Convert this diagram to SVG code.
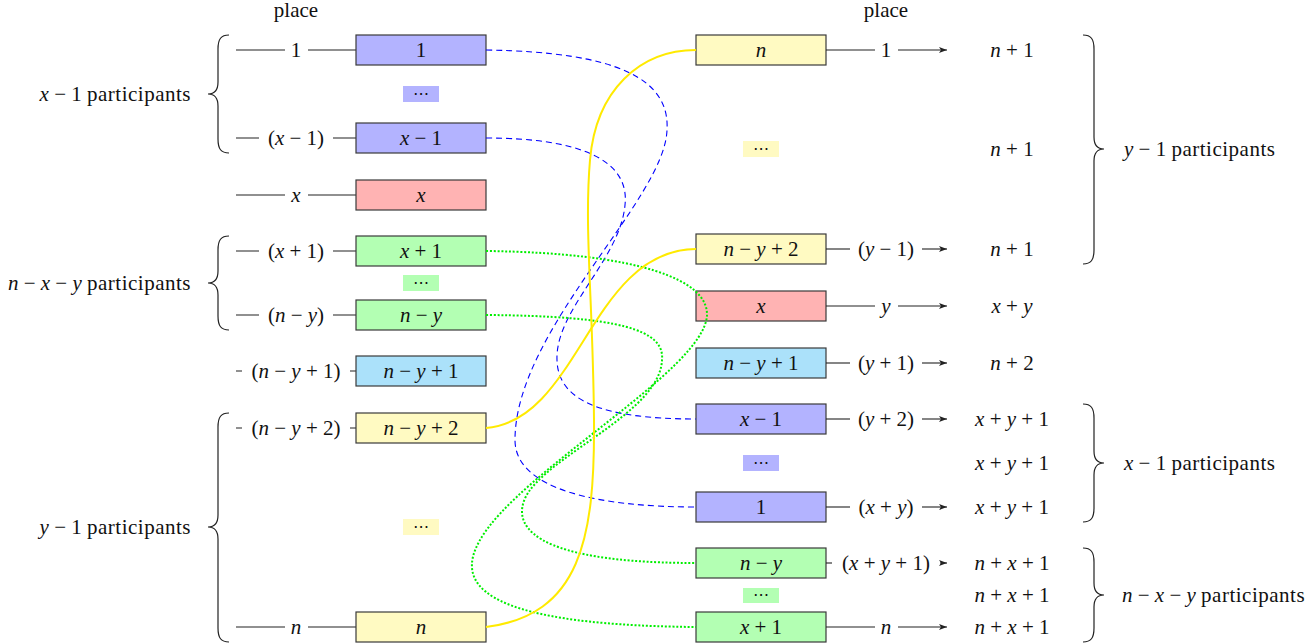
<svg xmlns="http://www.w3.org/2000/svg" width="1314" height="643" viewBox="0 0 1314 643">
<style>
text{font-family:"Liberation Serif","DejaVu Serif",serif;font-size:21px;fill:#111;}
.c{text-anchor:middle;}
.e{text-anchor:end;}
.i{font-style:italic;}
.pt{letter-spacing:0.5px;}
.dots{font-family:"DejaVu Sans",sans-serif;font-size:16px;text-anchor:middle;fill:#111;}
.box{stroke:#3a3a3a;stroke-width:1.2;}
.blue{fill:#b3b3ff;}
.red{fill:#ffb3b3;}
.green{fill:#b3ffb3;}
.cyan{fill:#abe1fa;}
.yellow{fill:#fffac2;}
.ln{stroke:#222;stroke-width:1.1;fill:none;}
.ar{stroke:#222;stroke-width:1.1;fill:none;marker-end:url(#arr);}
.brace{stroke:#222;stroke-width:1.2;fill:none;}
.cb{stroke:#0000ff;stroke-width:1.1;fill:none;stroke-dasharray:6 4;}
.cg{stroke:#00ee00;stroke-width:2;fill:none;stroke-dasharray:2 1.8;}
.cy{stroke:#ffea00;stroke-width:2;fill:none;}
</style>
<defs>
<marker id="arr" markerUnits="userSpaceOnUse" markerWidth="9" markerHeight="7" refX="8" refY="3.5" orient="auto">
<path d="M0,0.5 L8,3.5 L0,6.5 L2,3.5 z" fill="#222"/>
</marker>
</defs>
<rect x="0" y="0" width="1314" height="643" fill="#fff"/>

<g id="headers">
<text class="c" x="296" y="17">place</text>
<text class="c" x="886" y="17">place</text>
</g>

<g id="left-place-lines">
<path class="ln" d="M236,50H285M308,50H356"/>
<text class="c" x="296" y="57">1</text>
<path class="ln" d="M236,138H259M333,138H356"/>
<text class="c" x="296" y="145">(<tspan class="i">x</tspan> − 1)</text>
<path class="ln" d="M236,195H285M308,195H356"/>
<text class="c" x="296" y="202"><tspan class="i">x</tspan></text>
<path class="ln" d="M236,251H259M333,251H356"/>
<text class="c" x="296" y="258">(<tspan class="i">x</tspan> + 1)</text>
<path class="ln" d="M236,315H259M333,315H356"/>
<text class="c" x="296" y="322">(<tspan class="i">n</tspan> − <tspan class="i">y</tspan>)</text>
<path class="ln" d="M236,371H242M350,371H356"/>
<text class="c" x="296" y="378">(<tspan class="i">n</tspan> − <tspan class="i">y</tspan> + 1)</text>
<path class="ln" d="M236,428H242M350,428H356"/>
<text class="c" x="296" y="435">(<tspan class="i">n</tspan> − <tspan class="i">y</tspan> + 2)</text>
<path class="ln" d="M236,627H285M308,627H356"/>
<text class="c" x="296" y="634"><tspan class="i">n</tspan></text>
</g>

<g id="L-1"><rect class="box blue" x="356" y="35" width="130" height="30"/><text class="c" x="421" y="57">1</text></g>
<g id="L-dots-blue"><rect class="blue" x="403" y="86" width="36" height="16"/><text class="dots" x="421" y="99">⋯</text></g>
<g id="L-xm1"><rect class="box blue" x="356" y="123" width="130" height="30"/><text class="c" x="421" y="145"><tspan class="i">x</tspan> − 1</text></g>
<g id="L-x"><rect class="box red" x="356" y="180" width="130" height="30"/><text class="c" x="421" y="202"><tspan class="i">x</tspan></text></g>
<g id="L-xp1"><rect class="box green" x="356" y="236" width="130" height="30"/><text class="c" x="421" y="258"><tspan class="i">x</tspan> + 1</text></g>
<g id="L-dots-green"><rect class="green" x="403" y="275" width="36" height="16"/><text class="dots" x="421" y="288">⋯</text></g>
<g id="L-nmy"><rect class="box green" x="356" y="300" width="130" height="30"/><text class="c" x="421" y="322"><tspan class="i">n</tspan> − <tspan class="i">y</tspan></text></g>
<g id="L-nmyp1"><rect class="box cyan" x="356" y="356" width="130" height="30"/><text class="c" x="421" y="378"><tspan class="i">n</tspan> − <tspan class="i">y</tspan> + 1</text></g>
<g id="L-nmyp2"><rect class="box yellow" x="356" y="413" width="130" height="30"/><text class="c" x="421" y="435"><tspan class="i">n</tspan> − <tspan class="i">y</tspan> + 2</text></g>
<g id="L-dots-yellow"><rect class="yellow" x="403" y="519" width="36" height="16"/><text class="dots" x="421" y="532">⋯</text></g>
<g id="L-n"><rect class="box yellow" x="356" y="612" width="130" height="30"/><text class="c" x="421" y="634"><tspan class="i">n</tspan></text></g>

<g id="R-n"><rect class="box yellow" x="696" y="35" width="130" height="30"/><text class="c" x="761" y="57"><tspan class="i">n</tspan></text></g>
<g id="R-dots-yellow"><rect class="yellow" x="743" y="141" width="36" height="16"/><text class="dots" x="761" y="154">⋯</text></g>
<g id="R-nmyp2"><rect class="box yellow" x="696" y="234" width="130" height="30"/><text class="c" x="761" y="256"><tspan class="i">n</tspan> − <tspan class="i">y</tspan> + 2</text></g>
<g id="R-x"><rect class="box red" x="696" y="291" width="130" height="30"/><text class="c" x="761" y="313"><tspan class="i">x</tspan></text></g>
<g id="R-nmyp1"><rect class="box cyan" x="696" y="348" width="130" height="30"/><text class="c" x="761" y="370"><tspan class="i">n</tspan> − <tspan class="i">y</tspan> + 1</text></g>
<g id="R-xm1"><rect class="box blue" x="696" y="404" width="130" height="30"/><text class="c" x="761" y="426"><tspan class="i">x</tspan> − 1</text></g>
<g id="R-dots-blue"><rect class="blue" x="743" y="455" width="36" height="16"/><text class="dots" x="761" y="468">⋯</text></g>
<g id="R-1"><rect class="box blue" x="696" y="492" width="130" height="30"/><text class="c" x="761" y="514">1</text></g>
<g id="R-nmy"><rect class="box green" x="696" y="548" width="130" height="30"/><text class="c" x="761" y="570"><tspan class="i">n</tspan> − <tspan class="i">y</tspan></text></g>
<g id="R-dots-green"><rect class="green" x="743" y="588" width="36" height="15"/><text class="dots" x="761" y="600">⋯</text></g>
<g id="R-xp1"><rect class="box green" x="696" y="612" width="130" height="30"/><text class="c" x="761" y="634"><tspan class="i">x</tspan> + 1</text></g>

<g id="connectors">
<path class="cb" d="M486,50 C620,52 670,80 667,130 C665,200 515,330 515,440 C515,490 600,507 696,507"/>
<path class="cb" d="M486,138 C580,138 630,160 625,205 C620,260 555,310 557,360 C558,400 600,419 696,419"/>
<path class="cg" d="M486,251 C640,253 708,280 707,315 C705,370 520,470 480,540 C457,580 470,625 696,627"/>
<path class="cg" d="M486,315 C620,316 665,330 662,360 C660,410 560,450 530,490 C515,510 500,563 696,563"/>
<path class="cy" d="M486,627 C580,615 595,540 594,420 C593,300 584,230 590,160 C596,90 640,50 696,50"/>
<path class="cy" d="M486,428 C580,420 590,250 696,249"/>
</g>

<g id="right-place-arrows">
<path class="ln" d="M826,50H875"/><path class="ar" d="M898,50H947"/>
<text class="c" x="886" y="57">1</text>
<path class="ln" d="M826,249H850"/><path class="ar" d="M922,249H947"/>
<text class="c" x="886" y="256">(<tspan class="i">y</tspan> − 1)</text>
<path class="ln" d="M826,306H875"/><path class="ar" d="M898,306H947"/>
<text class="c" x="886" y="313"><tspan class="i">y</tspan></text>
<path class="ln" d="M826,363H850"/><path class="ar" d="M922,363H947"/>
<text class="c" x="886" y="370">(<tspan class="i">y</tspan> + 1)</text>
<path class="ln" d="M826,419H850"/><path class="ar" d="M922,419H947"/>
<text class="c" x="886" y="426">(<tspan class="i">y</tspan> + 2)</text>
<path class="ln" d="M826,507H850"/><path class="ar" d="M922,507H947"/>
<text class="c" x="886" y="514">(<tspan class="i">x</tspan> + <tspan class="i">y</tspan>)</text>
<path class="ln" d="M826,563H832"/><path class="ar" d="M940,563H947"/>
<text class="c" x="886" y="570">(<tspan class="i">x</tspan> + <tspan class="i">y</tspan> + 1)</text>
<path class="ln" d="M826,627H875"/><path class="ar" d="M898,627H947"/>
<text class="c" x="886" y="634"><tspan class="i">n</tspan></text>
</g>

<g id="results">
<text class="c" x="1012" y="57"><tspan class="i">n</tspan> + 1</text>
<text class="c" x="1012" y="156"><tspan class="i">n</tspan> + 1</text>
<text class="c" x="1012" y="256"><tspan class="i">n</tspan> + 1</text>
<text class="c" x="1012" y="313"><tspan class="i">x</tspan> + <tspan class="i">y</tspan></text>
<text class="c" x="1012" y="370"><tspan class="i">n</tspan> + 2</text>
<text class="c" x="1012" y="426"><tspan class="i">x</tspan> + <tspan class="i">y</tspan> + 1</text>
<text class="c" x="1012" y="470"><tspan class="i">x</tspan> + <tspan class="i">y</tspan> + 1</text>
<text class="c" x="1012" y="514"><tspan class="i">x</tspan> + <tspan class="i">y</tspan> + 1</text>
<text class="c" x="1012" y="570"><tspan class="i">n</tspan> + <tspan class="i">x</tspan> + 1</text>
<text class="c" x="1012" y="602"><tspan class="i">n</tspan> + <tspan class="i">x</tspan> + 1</text>
<text class="c" x="1012" y="634"><tspan class="i">n</tspan> + <tspan class="i">x</tspan> + 1</text>
</g>

<g id="left-braces">
<path class="brace" d="M229,35 C221,35 218,39 218,49 L218,82 C218,90 214,94 208,94 C214,94 218,98 218,106 L218,139 C218,149 221,153 229,153"/>
<text class="e" x="191" y="101"><tspan class="i">x</tspan> − 1 <tspan class="pt">participants</tspan></text>
<path class="brace" d="M229,236 C221,236 218,240 218,250 L218,271 C218,279 214,283 208,283 C214,283 218,287 218,295 L218,316 C218,326 221,330 229,330"/>
<text class="e" x="191" y="290"><tspan class="i">n</tspan> − <tspan class="i">x</tspan> − <tspan class="i">y</tspan> <tspan class="pt">participants</tspan></text>
<path class="brace" d="M229,413 C221,413 218,417 218,427 L218,515 C218,523 214,527 208,527 C214,527 218,531 218,539 L218,628 C218,638 221,642 229,642"/>
<text class="e" x="191" y="534"><tspan class="i">y</tspan> − 1 <tspan class="pt">participants</tspan></text>
</g>

<g id="right-braces">
<path class="brace" d="M1083,35 C1091,35 1094,39 1094,49 L1094,137 C1094,145 1098,149 1104,149 C1098,149 1094,153 1094,161 L1094,250 C1094,260 1091,264 1083,264"/>
<text x="1124" y="156"><tspan class="i">y</tspan> − 1 <tspan class="pt">participants</tspan></text>
<path class="brace" d="M1083,404 C1091,404 1094,408 1094,418 L1094,451 C1094,459 1098,463 1104,463 C1098,463 1094,467 1094,475 L1094,508 C1094,518 1091,522 1083,522"/>
<text x="1124" y="470"><tspan class="i">x</tspan> − 1 <tspan class="pt">participants</tspan></text>
<path class="brace" d="M1083,548 C1091,548 1094,552 1094,562 L1094,583 C1094,591 1098,595 1104,595 C1098,595 1094,599 1094,607 L1094,628 C1094,638 1091,642 1083,642"/>
<text x="1122" y="602"><tspan class="i">n</tspan> − <tspan class="i">x</tspan> − <tspan class="i">y</tspan> <tspan class="pt">participants</tspan></text>
</g>
</svg>
